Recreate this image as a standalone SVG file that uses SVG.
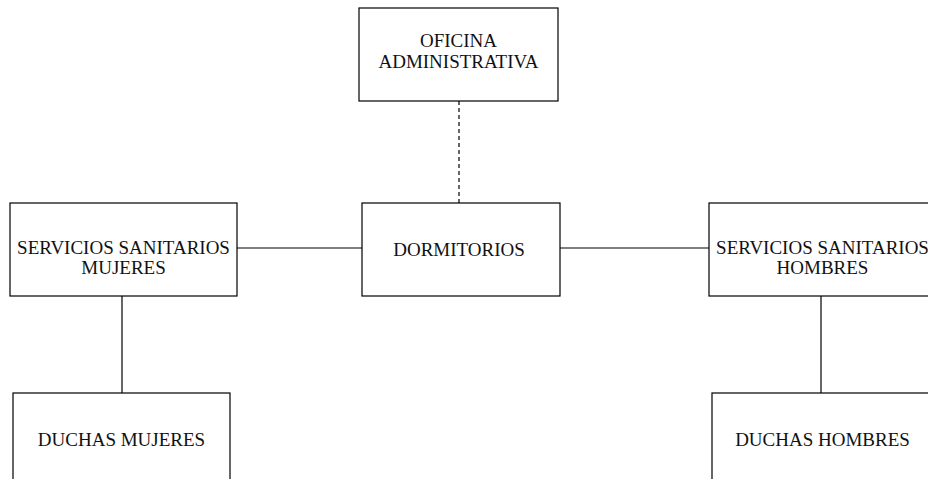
<svg xmlns="http://www.w3.org/2000/svg" width="928" height="479" viewBox="0 0 928 479">
<style>
.box{fill:#fff;stroke:#000;stroke-width:1.2}
.t{font-family:"Liberation Serif","Times New Roman",serif;font-size:19px;fill:#111;text-anchor:middle}
.c{stroke:#000;stroke-width:1.2;fill:none}
.d{stroke-dasharray:4,3}
</style>
<rect width="928" height="479" fill="#fff"/>
<g id="connectors">
<line class="c d" x1="459" y1="101" x2="459" y2="203"/>
<line class="c" x1="237" y1="248" x2="362" y2="248"/>
<line class="c" x1="560" y1="248" x2="709" y2="248"/>
<line class="c" x1="122" y1="296" x2="122" y2="393"/>
<line class="c" x1="821" y1="296" x2="821" y2="393"/>
</g>
<g id="oficina">
<rect class="box" x="359" y="8" width="199" height="93"/>
<text class="t" x="458.5" y="47">OFICINA</text>
<text class="t" x="458.5" y="68">ADMINISTRATIVA</text>
</g>
<g id="dormitorios">
<rect class="box" x="362" y="203" width="198" height="93"/>
<text class="t" x="459" y="256">DORMITORIOS</text>
</g>
<g id="ss-mujeres">
<rect class="box" x="10" y="203" width="227" height="93"/>
<text class="t" x="123.5" y="254">SERVICIOS SANITARIOS</text>
<text class="t" x="123.5" y="274">MUJERES</text>
</g>
<g id="ss-hombres">
<rect class="box" x="709" y="203" width="227" height="93"/>
<text class="t" x="822.5" y="254">SERVICIOS SANITARIOS</text>
<text class="t" x="822.5" y="274">HOMBRES</text>
</g>
<g id="duchas-mujeres">
<rect class="box" x="13" y="393" width="217" height="100"/>
<text class="t" x="121.5" y="446">DUCHAS MUJERES</text>
</g>
<g id="duchas-hombres">
<rect class="box" x="712" y="393" width="220" height="100"/>
<text class="t" x="822.5" y="446">DUCHAS HOMBRES</text>
</g>
</svg>
